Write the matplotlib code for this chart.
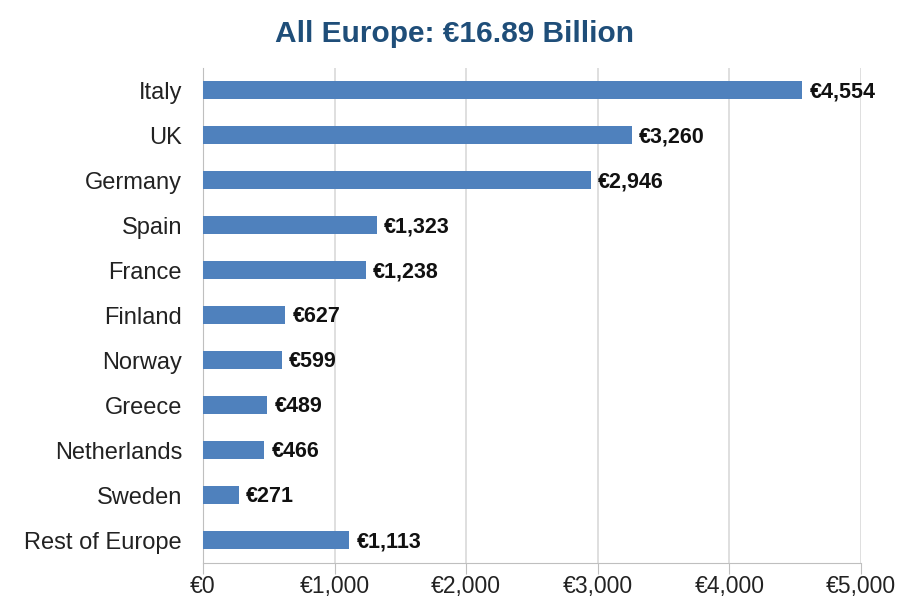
import matplotlib.pyplot as plt

countries = ['Italy', 'UK', 'Germany', 'Spain', 'France', 'Finland', 'Norway',
             'Greece', 'Netherlands', 'Sweden', 'Rest of Europe']
values = [4554, 3260, 2946, 1323, 1238, 627, 599, 489, 466, 271, 1113]
xticks = [0, 1000, 2000, 3000, 4000, 5000]

plt.rcParams['font.family'] = ['Liberation Sans', 'DejaVu Sans']

fig = plt.figure(figsize=(9.02, 6.05), dpi=100)
ax = fig.add_axes([0.225, 0.0702, 0.7295, 0.8182])

pos = list(range(len(countries)))[::-1]
ax.barh(pos, values, height=0.4, color='#4f81bd', zorder=3)
for p, v in zip(pos, values):
    ax.text(v + 55, p - 0.04, '€{:,}'.format(v), va='center', ha='left',
            fontsize=15.5, fontweight='bold', color='#111111', zorder=4)

ax.set_xlim(0, 5000)
ax.set_ylim(-0.5, len(countries) - 0.5)
ax.set_yticks(pos)
ax.set_yticklabels(countries, fontsize=17, color='#222222')
ax.set_xticks(xticks)
ax.set_xticklabels(['€{:,}'.format(t) for t in xticks], fontsize=16.5, color='#222222')
ax.tick_params(axis='y', length=0, pad=15)
ax.tick_params(axis='x', length=8, color='#bfbfbf', pad=1)
ax.grid(axis='x', color='#d9d9d9', linewidth=1.2, zorder=0)
for s in ['top', 'right']:
    ax.spines[s].set_visible(False)
ax.spines['left'].set_color('#bfbfbf')
ax.spines['bottom'].set_color('#bfbfbf')

fig.text(0.504, 0.944, 'All Europe: €16.89 Billion', ha='center', va='center',
         fontsize=21.5, fontweight='bold', color='#1f4e79')

plt.savefig('out.png', dpi=100)
